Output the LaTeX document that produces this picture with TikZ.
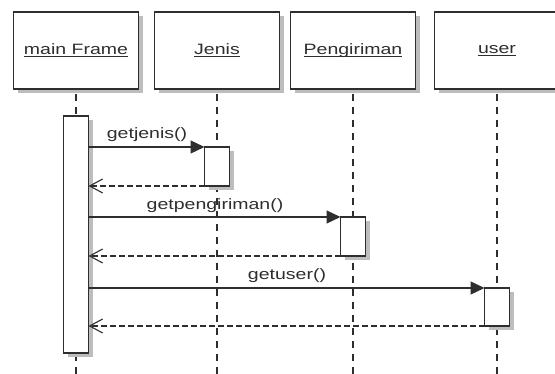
\documentclass[tikz,border=0pt]{standalone}
\usepackage{fontspec}
\setmainfont{Liberation Sans}
\usepackage{graphicx}
\usetikzlibrary{arrows.meta}
\definecolor{ink}{HTML}{2E2E2E}
\definecolor{shade}{HTML}{BDBDBD}
\newcommand\myul[1]{\setbox0\hbox{#1}\rlap{\rule[-2.6pt]{\wd0}{1.1pt}}\box0}
\newcommand\wide[1]{\scalebox{1.3}[1]{#1}}
\begin{document}
\begin{tikzpicture}[x=1pt,y=-1pt,
  every node/.style={inner sep=0pt,outer sep=0pt},
  shad/.style={preaction={fill=shade,draw=none,transform canvas={xshift=4pt,yshift=-4pt}}},
  hdr/.style={draw=ink,line width=1.3pt,fill=white,shad,minimum width=125pt,minimum height=77pt,
    font=\fontsize{15}{17}\selectfont,text=ink},
  act/.style={draw=ink,line width=1.2pt,fill=white,shad,minimum width=25pt},
  life/.style={draw=ink,line width=1.6pt,dash pattern=on 7pt off 6pt},
  msg/.style={draw=ink,line width=1.2pt,-{Triangle[length=14pt,width=13pt]}},
  ret/.style={draw=ink,line width=1.2pt,dash pattern=on 6pt off 3pt,-{Straight Barb[length=13pt,width=14pt,line width=1.1pt]}},
  lbl/.style={anchor=base,font=\fontsize{15}{17}\selectfont,text=ink}]
\useasboundingbox (0,0) rectangle (555,374);
\clip (0,0) rectangle (555,374);
\fill[white] (0,0) rectangle (555,374);
% header boxes
\node[hdr] (mf) at (76,50.5) {\wide{\myul{main Frame}}};
\node[hdr] (je) at (217,50.5) {\wide{\myul{Jenis}}};
\node[hdr] (pe) at (353,50.5) {\wide{\myul{Pengiriman}}};
\node[hdr] (us) at (497,50.5) {\wide{\myul{user}}};
% lifeline ends
\coordinate (mfend) at (76,378);
\coordinate (jeend) at (217,378);
\coordinate (peend) at (353,378);
\coordinate (usend) at (497,378);
\draw[life] ([yshift=-5pt]mf.south) -- (mfend);
\draw[life] ([yshift=-5pt]je.south) -- (jeend);
\draw[life] ([yshift=-5pt]pe.south) -- (peend);
\draw[life] ([yshift=-5pt]us.south) -- (usend);
% activations
\node[act,minimum height=237pt] (ma) at (76,234.5) {};
\node[act,minimum height=39pt] (ja) at (217,166.5) {};
\node[act,minimum height=39pt] (pa) at (353,236.5) {};
\node[act,minimum height=38pt] (ua) at (497,307) {};
% messages
\draw[msg] (ma.east |- ja.north) -- (ja.north west);
\draw[ret] (ja.south west) -- (ma.east |- ja.south);
\draw[msg] (ma.east |- pa.north) -- (pa.north west);
\draw[ret] (pa.south west) -- (ma.east |- pa.south);
\draw[msg] (ma.east |- ua.north) -- (ua.north west);
\draw[ret] (ua.south west) -- (ma.east |- ua.south);
% labels
\node[lbl] (l1) at (147,139) {\wide{getjenis()}};
\node[lbl] (l2) at (215,210) {\wide{getpengiriman()}};
\node[lbl] (l3) at (287,280) {\wide{getuser()}};
\end{tikzpicture}
\end{document}
